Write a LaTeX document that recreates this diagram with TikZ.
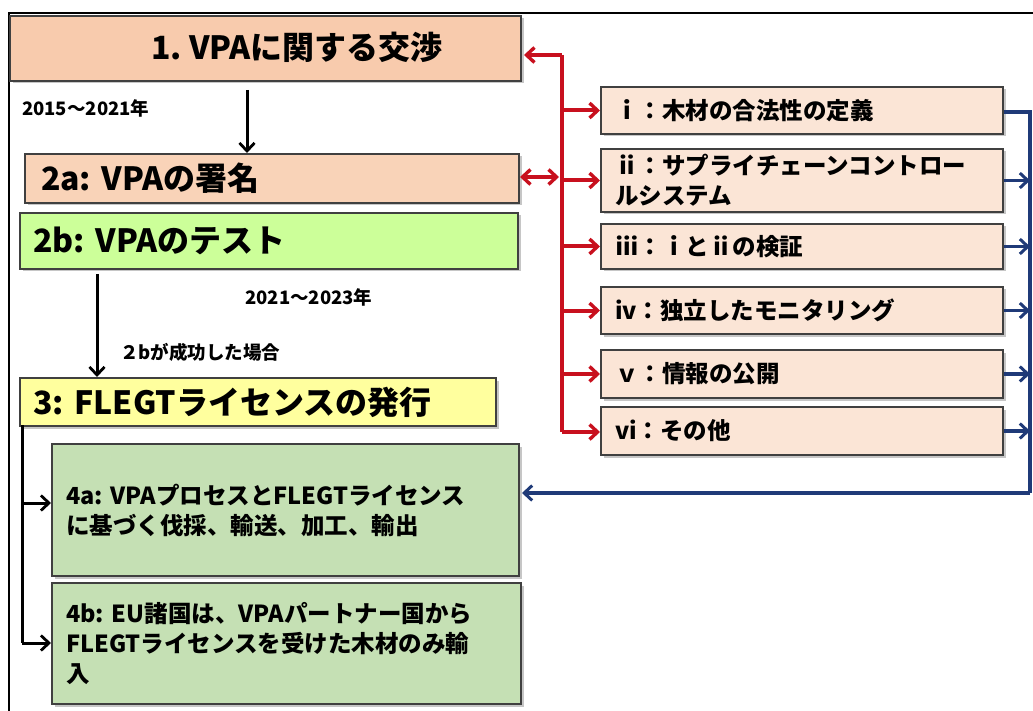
\documentclass[tikz,border=0pt]{standalone}
\usepackage{fontspec}
\setmainfont{Noto Sans CJK JP}
\frenchspacing
\usetikzlibrary{arrows.meta,shadows}
\definecolor{peach}{HTML}{F8CBAD}
\definecolor{peachmid}{HTML}{F9D3B8}
\definecolor{peachlt}{HTML}{FBE5D6}
\definecolor{lime}{HTML}{CCFF99}
\definecolor{pyellow}{HTML}{FFFF9E}
\definecolor{sage}{HTML}{C5E0B4}
\definecolor{rline}{HTML}{C8101E}
\definecolor{bline}{HTML}{1F3A78}
\definecolor{edge}{HTML}{404040}
\begin{document}
\begin{tikzpicture}[x=1pt,y=-1pt,
  box/.style={draw=edge, line width=2pt, anchor=north west, inner ysep=2pt,
    drop shadow={shadow xshift=2.5pt,shadow yshift=-2.5pt,opacity=.45,fill=gray}},
  big/.style={font=\bfseries\fontsize{32}{35}\selectfont},
  mid/.style={font=\bfseries\fontsize{23.5}{30}\selectfont},
  small/.style={font=\bfseries\fontsize{18.5}{21}\selectfont},
  rbox/.style={box, fill=peachlt, mid, inner xsep=14pt, text width=374pt, align=left},
  redarr/.style={draw=rline, line width=4pt, -{Straight Barb[length=8pt,width=15pt,line width=3.4pt]}},
  redbi/.style={draw=rline, line width=4pt, {Straight Barb[length=8pt,width=15pt,line width=3.4pt]}-{Straight Barb[length=8pt,width=15pt,line width=3.4pt]}},
  redline/.style={draw=rline, line width=4pt},
  bluearr/.style={draw=bline, line width=3.4pt, -{Straight Barb[length=8pt,width=15pt,line width=3pt]}},
  bluebar/.style={draw=bline, line width=3.4pt},
  blkarr/.style={draw=black, line width=3pt, -{Straight Barb[length=8pt,width=15pt,line width=2.8pt]}},
  blkline/.style={draw=black, line width=3pt},
  frame/.style={draw=black, line width=2.2pt}
]
\useasboundingbox (0,0) rectangle (1033,711);
% outer frame
\coordinate (fl) at (9,711);
\coordinate (fc) at (9,13);
\coordinate (fr) at (1033,13);
\draw[frame] (fl) -- (fc) -- (fr);

% left column
\node[box, fill=peach, minimum width=511pt, minimum height=65pt] (n1) at (9,15) {};
\node[big] (t1) at (297,47) {1. VPAに関する交渉};
\node[box, fill=peachmid, big, inner xsep=16pt, text width=462pt, minimum height=49pt, align=left] (n2a) at (24,153) {2a: VPAの署名};
\node[box, fill=lime, big, inner xsep=13pt, text width=472pt, minimum height=56pt, align=left] (n2b) at (19,212) {2b: VPAのテスト};
\node[box, fill=pyellow, big, inner xsep=13pt, text width=450pt, minimum height=48pt, align=left] (n3) at (19,377) {3: FLEGTライセンスの発行};
\node[box, fill=sage, mid, inner xsep=14pt, text width=439pt, minimum height=132pt, align=left] (n4a) at (51,443) {4a: VPAプロセスとFLEGTライセンス\\に基づく伐採、輸送、加工、輸出};
\node[box, fill=sage, mid, inner xsep=14pt, text width=441pt, minimum height=121pt, align=left] (n4b) at (51,582) {4b: EU諸国は、VPAパートナー国から\\FLEGTライセンスを受けた木材のみ輸\\入};

% small labels
\node[small, anchor=west, inner sep=0pt] (d1) at (22,108) {2015～2021年};
\node[small, anchor=west, inner sep=0pt] (d2) at (245,297) {2021～2023年};
\node[small, anchor=west, inner sep=0pt] (d3) at (120,352) {２bが成功した場合};

% right column
\node[rbox, minimum height=47pt] (ri) at (600,86) {ｉ：木材の合法性の定義};
\node[rbox, minimum height=63pt] (rii) at (600,148) {ⅱ：サプライチェーンコントロー\\ルシステム};
\node[rbox, minimum height=45pt] (riii) at (600,223) {ⅲ：ｉとⅱの検証};
\node[rbox, minimum height=47pt] (riv) at (600,286) {iv：独立したモニタリング};
\node[rbox, minimum height=48pt] (rv) at (600,349) {ｖ：情報の公開};
\node[rbox, minimum height=48pt] (rvi) at (600,406) {vi：その他};

% black connectors
\coordinate (c1) at (247,0);
\coordinate (c2) at (97,0);
\draw[blkarr] ([yshift=-8pt]n1.south -| c1) -- (n2a.north -| c1);
\draw[blkarr] ([yshift=-4pt]n2b.south -| c2) -- (n3.north -| c2);
\coordinate (lt) at (22,425);
\coordinate (la) at (22,503);
\coordinate (lb) at (22,643);
\draw[blkline] (lt) -- (lb);
\draw[blkarr] (la) -- (n4a.west |- la);
\draw[blkarr] (lb) -- (n4b.west |- lb);

% red connectors
\coordinate (rtop) at (562,55);
\coordinate (rbot) at (562,432);
\coordinate (rmid) at (559,177);
\draw[redline] (rtop) -- (rbot);
\draw[redarr] (rtop) -- ([xshift=2pt]n1.east |- rtop);
\draw[redbi] (n2a.east |- rmid) -- (rmid);
\draw[redarr] (ri.west -| rtop) -- (ri.west);
\draw[redarr] (rii.west -| rtop) -- (rii.west);
\draw[redarr] (riii.west -| rtop) -- (riii.west);
\draw[redarr] (riv.west -| rtop) -- (riv.west);
\draw[redarr] (rv.west -| rtop) -- (rv.west);
\draw[redarr] (rbot) -- (rvi.west |- rbot);

% blue connectors
\coordinate (bt) at (1030,112);
\coordinate (bb) at (1030,493);
\draw[bluebar] (ri.east |- bt) -- (bt) -- (bb);
\draw[bluearr] (bb) -- ([xshift=2pt]n4a.east |- bb);
\draw[bluearr] (rii.east) -- (rii.east -| bb);
\draw[bluearr] (riii.east) -- (riii.east -| bb);
\draw[bluearr] (riv.east) -- (riv.east -| bb);
\draw[bluearr] (rv.east) -- (rv.east -| bb);
\draw[bluearr] (rvi.east) -- (rvi.east -| bb);
\end{tikzpicture}
\end{document}
